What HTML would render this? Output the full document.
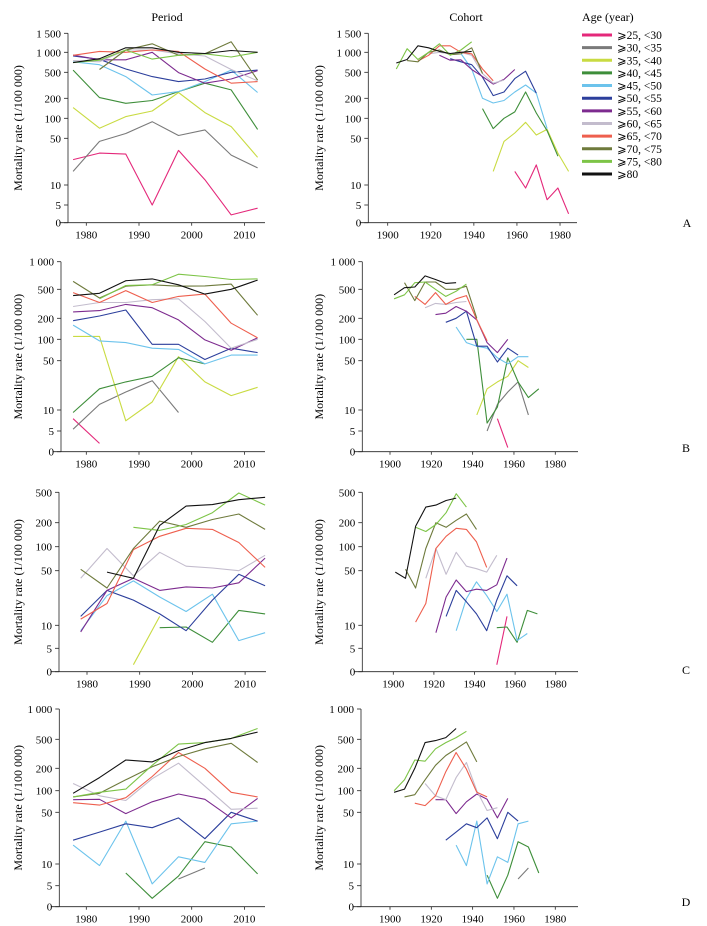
<!DOCTYPE html>
<html><head><meta charset="utf-8">
<style>
html,body{margin:0;padding:0;background:#fff;}
svg{display:block;}
svg text{font-family:"Liberation Serif","DejaVu Serif",serif;}
</style></head>
<body>
<svg id="chart" width="707" height="926" viewBox="0 0 707 926" xmlns="http://www.w3.org/2000/svg" font-family="Liberation Serif, DejaVu Serif, serif">
<text x="167" y="21" font-size="12" text-anchor="middle" font-family="Liberation Serif, serif">Period</text>
<text x="466" y="21" font-size="12" text-anchor="middle" font-family="Liberation Serif, serif">Cohort</text>
<text x="582" y="21" font-size="12" font-family="Liberation Serif, serif">Age (year)</text>
<g id="legend"></g>
<g id="panels"></g>
</svg>
<script>
// ---- data ----
const ageLabels = ["⩾25, <30","⩾30, <35","⩾35, <40","⩾40, <45","⩾45, <50","⩾50, <55","⩾55, <60","⩾60, <65","⩾65, <70","⩾70, <75","⩾75, <80","⩾80"];
const colors = ["#e4287a","#7a7a7a","#c9db42","#3e8e3a","#6cc3ec","#2c3f9c","#7d2b8f","#c3bccd","#ee5f4e","#6e7a3c","#7dc447","#111111"];
const periodYearsABD = [1977.5,1982.5,1987.5,1992.5,1997.5,2002.5,2007.5,2012.5];
const periodYearsC = [1978.8,1983.8,1988.8,1993.8,1998.8,2003.8,2008.8,2013.8];
const N = null;
// Panel A period
const A_p0 = [24,30,29,5,33,12,2.2,4.1];
const A_p1 = [16,45,59,89,55,67,28,18];
const A_p2 = [145,71,106,129,245,122,75,26];
const A_p3 = [540,205,168,185,253,340,269,68];
const A_p4 = [720,650,430,225,253,360,540,245];
const A_p5 = [880,785,560,430,360,395,500,540];
const A_p6 = [910,770,770,1000,495,340,395,530];
const A_p7 = [750,720,1050,1050,950,880,550,370];
const A_p8 = [900,1020,1000,1050,1020,560,340,360];
const A_p9 = [N,550,1050,1200,900,950,1250,380];
const A_p10 = [700,760,1050,790,900,950,850,1000];
const A_p11 = [700,800,1100,1100,1000,960,1040,1000];
// Panel A cohort: start years and values
const A_cStart = [1959,N,1949,1944,1934,1929,1924,1919,1914,1909,1904,1904];
const A_c0 = [16,9,20,6,9,2.5];
const A_c1 = [];
const A_c2 = [16,45,60,87,56,68,30,16];
const A_c3 = [140,70,100,125,250,120,65,27];
const A_c4 = [960,560,200,170,185,250,320,240,70];
const A_c5 = [800,720,650,420,220,250,400,520,240];
const A_c6 = [900,760,770,550,430,330,390,550];
const A_c7 = [950,1000,950,1000,900,480,340,380];
const A_c8 = [740,900,1150,1150,1000,950,560,370];
const A_c9 = [750,720,1000,1050,920,950,1100,480];
const A_c10 = [560,1080,780,1000,1200,900,1050,1250];
const A_c11 = [690,780,1150,1100,1020,960,1000,1020];
// Panel B period
const B_p0 = [7.5,2,N,N,N,N,N,N];
const B_p1 = [5.3,12,18,26,9.2,N,N,N];
const B_p2 = [110,110,7,13,57,25,16,21];
const B_p3 = [9.2,20,25,30,55,45,N,N];
const B_p4 = [160,95,90,75,72,45,60,60];
const B_p5 = [185,215,260,85,85,52,75,65];
const B_p6 = [245,255,310,280,190,98,70,105];
const B_p7 = [290,330,330,360,370,180,75,100];
const B_p8 = [450,330,480,330,400,430,170,105];
const B_p9 = [610,380,540,560,540,545,570,220];
const B_p10 = [N,370,550,560,730,690,640,650];
const B_p11 = [410,440,620,650,560,430,500,630];
const B_cStart = [1952,1947,1942,1937,1932,1927,1922,1917,1912,1907,1902,1902];
const B_c0 = [7.5,1];
const B_c1 = [5,12,18,25,8.5];
const B_c2 = [8.5,20,25,30,50,40];
const B_c3 = [100,100,6.5,11,55,25,15,20];
const B_c4 = [150,90,80,75,55,45,57,57];
const B_c5 = [175,200,250,80,80,48,75,60];
const B_c6 = [225,235,290,250,190,90,65,100];
const B_c7 = [280,320,310,330,340];
const B_c8 = [400,310,450,310,370,410,190,95];
const B_c9 = [590,350,600,600,500,500,540,200];
const B_c10 = [370,420,590,600,500,400,470,570];
const B_c11 = [420,520,530,700,640,580,590];
// Panel C period
const C_p0 = [N,N,N,N,N,N,N,N];
const C_p1 = [N,N,N,N,N,N,N,N];
const C_p2 = [N,N,1.5,13,N,N,N,N];
const C_p3 = [N,N,N,9.3,9.5,6,15.5,14];
const C_p4 = [8.5,24,37,23,15,25,6.3,8];
const C_p5 = [13,28,21,14,8.5,21,45,32];
const C_p6 = [8.2,28,40,28,31,30,35,72];
const C_p7 = [40,95,43,85,57,54,50,78];
const C_p8 = [12,19,92,135,170,165,113,55];
const C_p9 = [52,30,95,210,175,220,260,165];
const C_p10 = [N,N,175,160,190,270,490,340];
const C_p11 = [N,48,40,185,330,345,400,430];
const C_cStart = [1951,N,N,1951,1931,1926,1921,1916,1911,1906,1911,1901];
const C_c0 = [1.5,13];
const C_c1 = [];
const C_c2 = [];
const C_c3 = [9.3,9.5,6,15.5,14];
const C_c4 = [8.5,22,36,24,15,25,6.3,7.8];
const C_c5 = [13,28,20,14,8.5,21,43,32];
const C_c6 = [8,23,38,27,29,28,33,72];
const C_c7 = [40,95,45,85,57,53,48,78];
const C_c8 = [11,19,95,135,170,165,115,55];
const C_c9 = [52,30,95,200,175,215,260,165];
const C_c10 = [175,155,190,270,480,320];
const C_c11 = [48,40,180,320,340,390,420];
// Panel D period
const D_p0 = [N,N,N,N,N,N,N,N];
const D_p1 = [N,N,N,N,6.2,8.8,N,N];
const D_p2 = [N,N,N,N,N,N,N,N];
const D_p3 = [N,N,7.5,2,6.8,20,17,7.3];
const D_p4 = [18,9.5,38,5.3,12.5,10.5,35,38];
const D_p5 = [21,27,35,31,42,22,50,38];
const D_p6 = [75,76,48,70,90,76,42,78];
const D_p7 = [125,85,73,145,235,115,55,57];
const D_p8 = [68,63,80,155,330,200,95,82];
const D_p9 = [82,92,140,210,290,370,440,240];
const D_p10 = [82,95,105,220,430,450,510,640];
const D_p11 = [92,150,260,245,350,450,510,590];
const D_cStart = [N,1962,N,1947,1932,1927,1922,1917,1912,1907,1902,1902];
const D_c0 = [];
const D_c1 = [6.2,8.8];
const D_c2 = [];
const D_c3 = [7,2,7,20,17,7.5];
const D_c4 = [18,9.5,38,5.3,12.5,10.5,35,38];
const D_c5 = [21,27,35,31,42,22,50,38];
const D_c6 = [75,75,48,70,90,76,42,78];
const D_c7 = [125,85,75,150,240,100,53,58];
const D_c8 = [67,62,85,180,330,195,95,82];
const D_c9 = [82,88,140,220,300,370,460,245];
const D_c10 = [100,140,260,250,370,450,520,600];
const D_c11 = [95,105,200,450,480,520,640];

const xTicksPeriod = [1980,1990,2000,2010];
const xTicksCohort = [1900,1920,1940,1960,1980];

// ---- layout (not data) ----
const panels = [
 {id:"a", letter:"A", ticks:[[1500,33.3],[1000,52.3],[500,72.3],[200,98.3],[100,118.3],[50,138.3],[10,185],[5,205],[0,222.7]],
  labels:["1 500","1 000","500","200","100","50","10","5","0"],
  left:{ax:68, x0:86.3, k:5.27, end:265, years:periodYearsABD, series:[A_p0,A_p1,A_p2,A_p3,A_p4,A_p5,A_p6,A_p7,A_p8,A_p9,A_p10,A_p11]},
  right:{ax:368.3, x0:387.7, k:2.154, end:577, start:A_cStart, series:[A_c0,A_c1,A_c2,A_c3,A_c4,A_c5,A_c6,A_c7,A_c8,A_c9,A_c10,A_c11]},
  lx:687, ly:227},
 {id:"b", letter:"B", ticks:[[1000,261.7],[500,289.3],[200,318.3],[100,339.3],[50,360.7],[10,410],[5,431],[0,451.7]],
  labels:["1 000","500","200","100","50","10","5","0"],
  left:{ax:61, x0:86.3, k:5.27, end:265, years:periodYearsABD, series:[B_p0,B_p1,B_p2,B_p3,B_p4,B_p5,B_p6,B_p7,B_p8,B_p9,B_p10,B_p11]},
  right:{ax:362.3, x0:390, k:2.066, end:578, start:B_cStart, series:[B_c0,B_c1,B_c2,B_c3,B_c4,B_c5,B_c6,B_c7,B_c8,B_c9,B_c10,B_c11]},
  lx:686, ly:452},
 {id:"c", letter:"C", ticks:[[500,492.3],[200,522.7],[100,546.7],[50,570.7],[10,625.3],[5,648.3],[0,671.7]],
  labels:["500","200","100","50","10","5","0"],
  left:{ax:59, x0:87, k:5.27, end:266, years:periodYearsC, series:[C_p0,C_p1,C_p2,C_p3,C_p4,C_p5,C_p6,C_p7,C_p8,C_p9,C_p10,C_p11]},
  right:{ax:362.3, x0:393.3, k:2.03, end:578, start:C_cStart, series:[C_c0,C_c1,C_c2,C_c3,C_c4,C_c5,C_c6,C_c7,C_c8,C_c9,C_c10,C_c11]},
  lx:686, ly:674},
 {id:"d", letter:"D", ticks:[[1000,709],[500,739.3],[200,768.3],[100,790.7],[50,812.3],[10,864],[5,885.7],[0,906.7]],
  labels:["1 000","500","200","100","50","10","5","0"],
  left:{ax:59.3, x0:86.3, k:5.27, end:265, years:periodYearsABD, series:[D_p0,D_p1,D_p2,D_p3,D_p4,D_p5,D_p6,D_p7,D_p8,D_p9,D_p10,D_p11]},
  right:{ax:361, x0:390, k:2.066, end:578, start:D_cStart, series:[D_c0,D_c1,D_c2,D_c3,D_c4,D_c5,D_c6,D_c7,D_c8,D_c9,D_c10,D_c11]},
  lx:686, ly:906}
];

const NS = "http://www.w3.org/2000/svg";
const FONT = "Liberation Serif, DejaVu Serif, serif";
function mk(tag, attrs, parent){const e=document.createElementNS(NS,tag);for(const k in attrs)e.setAttribute(k,attrs[k]);if(tag==='text')e.setAttribute('font-family',FONT);parent.appendChild(e);return e;}

function yScale(ticks, v){
  const f = t => Math.log10(t);
  if (v >= ticks[0][0]) return ticks[0][1];
  for (let i=0;i<ticks.length-1;i++){
    const [va,pa]=ticks[i],[vb,pb]=ticks[i+1];
    if (v<=va && v>=vb){
      if (vb<=0) return pb + (pa-pb)*(v/va);
      const t=(f(va)-f(v))/(f(va)-f(vb));
      return pa + t*(pb-pa);
    }
  }
  return ticks[ticks.length-1][1];
}

const legend = document.getElementById('legend');
ageLabels.forEach((lab,i)=>{
  const y = 35 + i*12.64;
  const ln = mk('line',{x1:582,x2:612,y1:y,y2:y,stroke:colors[i],'stroke-width':3},legend);
  
  
  const t = mk('text',{x:617,y:y+4,'font-size':11.5},legend);
  t.textContent = lab;
  
  
});

const root = document.getElementById('panels');
panels.forEach(p=>{
  ['left','right'].forEach(side=>{
    const s = p[side];
    const g = mk('g',{},root);
    
    
    const top = p.ticks[0][1], bot = p.ticks[p.ticks.length-1][1];
    const ya = mk('line',{x1:s.ax,x2:s.ax,y1:top,y2:bot,stroke:'#222','stroke-width':0.8},g);
    
    
    const xa = mk('line',{x1:s.ax-8,x2:s.end,y1:bot,y2:bot,stroke:'#222','stroke-width':0.8},g);
    
    
    p.ticks.forEach((tk,i)=>{
      mk('line',{x1:s.ax-4,x2:s.ax,y1:tk[1],y2:tk[1],stroke:'#222','stroke-width':0.8},g);
      const t = mk('text',{x:s.ax-7,y:tk[1]+4,'font-size':11,'text-anchor':'end'},g);
      t.textContent = p.labels[i];
      
      
    });
    const ttl = mk('text',{x:0,y:0,'font-size':12,'text-anchor':'middle',transform:`translate(${side==='left'?22:323},${(top+bot)/2}) rotate(-90)`},g);
    ttl.textContent = 'Mortality rate (1/100 000)';
    
    
    const xt = side==='left'?xTicksPeriod:xTicksCohort;
    const base = side==='left'?1980:1900;
    xt.forEach(yr=>{
      const x = s.x0 + (yr-base)*s.k;
      mk('line',{x1:x,x2:x,y1:bot,y2:bot+3,stroke:'#222','stroke-width':0.8},g);
      const t = mk('text',{x:x,y:bot+16,'font-size':11,'text-anchor':'middle'},g);
      t.textContent = yr;
      
      
    });
    s.series.forEach((vals,si)=>{
      let pts=[]; const segs=[];
      vals.forEach((v,i)=>{
        if (v===null||v===undefined){ if(pts.length) segs.push(pts); pts=[]; return; }
        const yr = side==='left' ? s.years[i] : s.start[si] + 5*i;
        const x = s.x0 + (yr-base)*s.k;
        pts.push(x.toFixed(1)+','+yScale(p.ticks,v).toFixed(1));
      });
      if(pts.length) segs.push(pts);
      segs.forEach(sg=>{
        const pl = mk('polyline',{points:sg.join(' '),fill:'none',stroke:colors[si],'stroke-width':1.1,'stroke-linejoin':'round'},g);
        
        
      });
    });
  });
  const L = mk('text',{x:p.lx,y:p.ly,'font-size':12,'text-anchor':'middle'},root);
  L.textContent = p.letter;
  
  
});
</script>
</body></html>
